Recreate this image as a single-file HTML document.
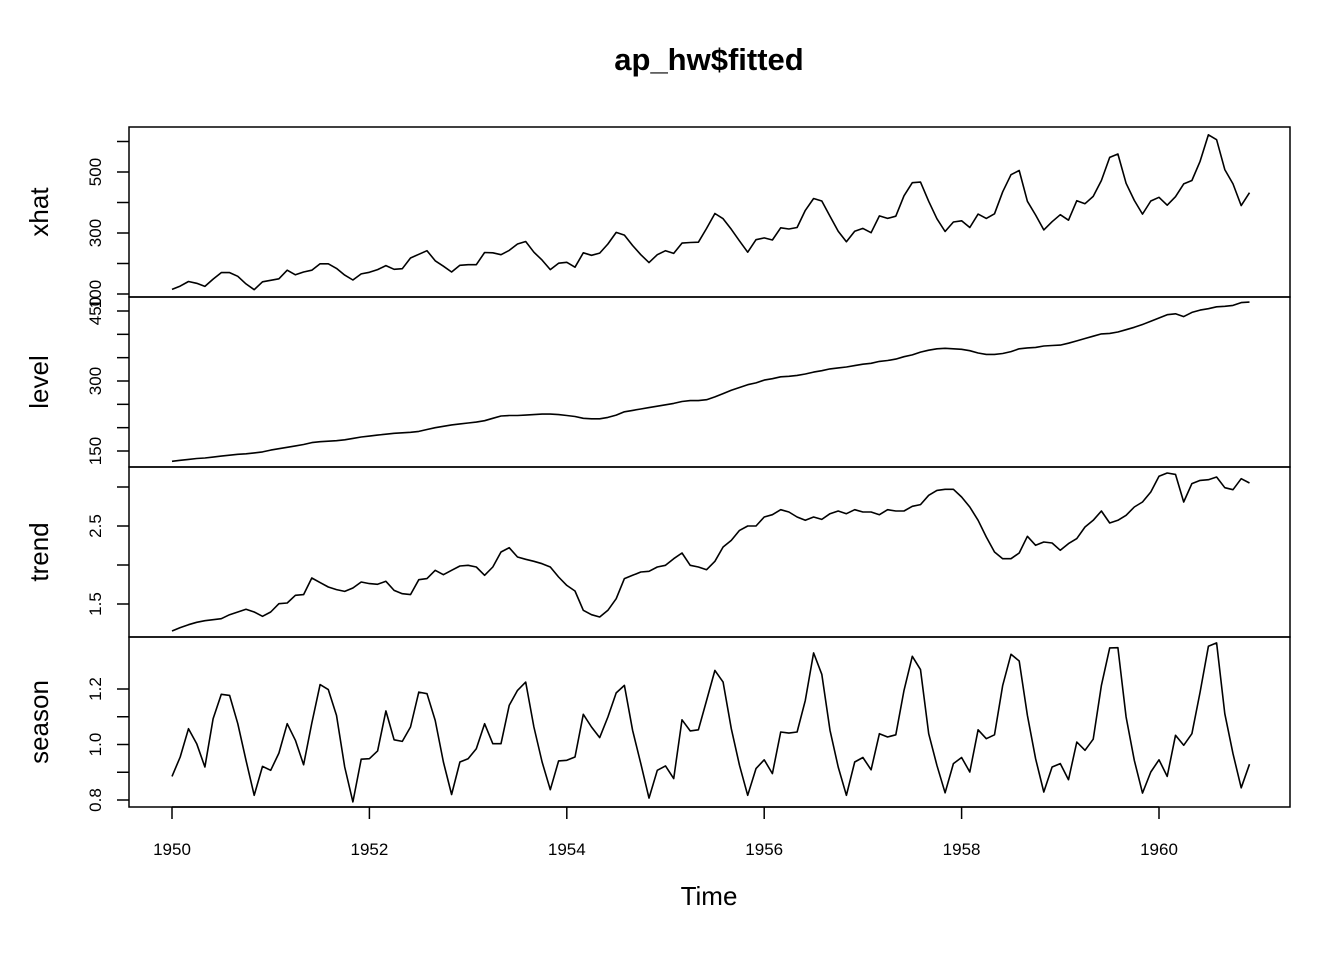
<!DOCTYPE html>
<html><head><meta charset="utf-8"><style>
body{margin:0;background:#fff}
svg text{font-family:"Liberation Sans",Arial,sans-serif;fill:#000}
</style></head><body>
<svg id="chart" width="1344" height="960" xmlns="http://www.w3.org/2000/svg">
<rect x="0" y="0" width="1344" height="960" fill="#fff"/>
<text x="709" y="70" font-size="31" font-weight="bold" text-anchor="middle">ap_hw$fitted</text>
<text x="709" y="905" font-size="26" text-anchor="middle">Time</text>
</svg>
<script>
const years = [1950,1952,1954,1956,1958,1960];
const xhatVals = [115,126,141,135,125,149,170,170,158,133,114,140,
145,150,178,163,172,178,199,199,184,162,146,166,
171,180,193,181,183,218,230,242,209,191,172,194,
196,196,236,235,229,243,264,272,237,211,180,201,
204,188,235,227,234,264,302,293,259,229,203,229,
242,233,267,269,270,315,364,347,312,274,237,278,
284,277,317,313,318,374,413,405,355,306,271,306,
315,301,356,348,355,422,465,467,404,347,305,336,
340,318,362,348,363,435,491,505,404,359,310,337,
360,342,406,396,420,472,548,559,463,407,362,405,
417,391,419,461,472,535,622,606,508,461,390,432];
const levelVals = [128,130,132,134,135,137,139,141,143,144,146,148,
152,155,158,161,164,168,170,171,172,174,177,180,
182,184,186,188,189,190,192,196,200,203,206,208,
210,212,215,220,225,226,226,227,228,229,229,228,
226,224,220,219,219,222,227,234,237,240,243,246,
249,252,256,258,258,260,266,273,280,286,292,296,
302,305,309,310,312,315,319,322,326,328,330,333,
336,338,342,344,347,352,356,362,366,369,370,369,
368,365,360,357,357,359,363,369,371,372,375,376,
377,381,386,391,396,401,402,405,410,415,421,428,
435,442,444,438,447,452,455,459,460,462,468,469];
const trendVals = [1.154,1.197,1.235,1.265,1.286,1.299,1.312,1.363,1.397,1.432,1.397,1.342,
1.397,1.504,1.513,1.611,1.620,1.833,1.774,1.718,1.684,1.662,1.705,1.782,
1.761,1.752,1.791,1.675,1.632,1.620,1.812,1.825,1.932,1.876,1.932,1.987,
1.996,1.974,1.868,1.974,2.167,2.222,2.103,2.073,2.047,2.017,1.974,1.846,
1.739,1.667,1.419,1.363,1.333,1.419,1.568,1.825,1.868,1.910,1.919,1.974,
1.996,2.081,2.154,1.996,1.974,1.940,2.047,2.231,2.316,2.444,2.500,2.500,
2.615,2.645,2.709,2.679,2.615,2.573,2.615,2.585,2.658,2.692,2.658,2.709,
2.679,2.679,2.645,2.709,2.692,2.692,2.752,2.774,2.893,2.957,2.970,2.970,
2.872,2.744,2.573,2.359,2.167,2.081,2.081,2.154,2.368,2.252,2.295,2.282,
2.188,2.274,2.338,2.487,2.573,2.692,2.538,2.573,2.637,2.744,2.808,2.936,
3.137,3.179,3.162,2.808,3.043,3.085,3.094,3.128,2.991,2.966,3.107,3.051];
const seasonVals = [0.885,0.955,1.057,1.003,0.919,1.093,1.181,1.177,1.075,0.943,0.817,0.921,
0.907,0.969,1.075,1.015,0.927,1.077,1.216,1.198,1.105,0.919,0.793,0.947,
0.949,0.977,1.121,1.017,1.011,1.063,1.189,1.183,1.087,0.937,0.820,0.937,
0.949,0.985,1.075,1.003,1.003,1.141,1.195,1.225,1.063,0.937,0.837,0.941,
0.943,0.955,1.109,1.063,1.025,1.099,1.186,1.213,1.051,0.931,0.807,0.907,
0.923,0.877,1.089,1.049,1.053,1.159,1.267,1.225,1.057,0.925,0.817,0.913,
0.945,0.895,1.045,1.041,1.045,1.159,1.330,1.253,1.051,0.919,0.817,0.937,
0.953,0.909,1.039,1.027,1.035,1.195,1.318,1.270,1.039,0.925,0.826,0.931,
0.953,0.901,1.053,1.021,1.035,1.213,1.325,1.301,1.105,0.949,0.829,0.919,
0.931,0.873,1.009,0.979,1.019,1.213,1.348,1.349,1.099,0.943,0.825,0.901,
0.945,0.885,1.033,0.997,1.039,1.189,1.354,1.366,1.111,0.967,0.844,0.929];
const xhatTicks = [100,200,300,400,500,600];
const xhatLabels = ["100","","300","","500",""];
const levelTicks = [150,200,250,300,350,400,450];
const levelLabels = ["150","","","300","","","450"];
const trendTicks = [1.5,2.0,2.5,3.0];
const trendLabels = ["1.5","","2.5",""];
const seasonTicks = [0.8,0.9,1.0,1.1,1.2];
const seasonLabels = ["0.8","","1.0","","1.2"];

const NS="http://www.w3.org/2000/svg";
const svg=document.getElementById('chart');
const X0=129,X1=1290;
function xs(t){return 172+(t-1950)*98.7;}
function mk(tag,attrs){const e=document.createElementNS(NS,tag);for(const k in attrs)e.setAttribute(k,attrs[k]);svg.appendChild(e);return e;}
const panels=[
 {name:'xhat',vals:xhatVals,ticks:xhatTicks,labels:xhatLabels,top:127,bot:297,v0:100,y0:294,v1:500,y1:172},
 {name:'level',vals:levelVals,ticks:levelTicks,labels:levelLabels,top:297,bot:467,v0:150,y0:451,v1:450,y1:311},
 {name:'trend',vals:trendVals,ticks:trendTicks,labels:trendLabels,top:467,bot:637,v0:1.5,y0:604,v1:2.5,y1:526},
 {name:'season',vals:seasonVals,ticks:seasonTicks,labels:seasonLabels,top:637,bot:807,v0:0.8,y0:800,v1:1.2,y1:689}
];
panels.forEach(p=>{
 const ys=v=>p.y0+(v-p.v0)*(p.y1-p.y0)/(p.v1-p.v0);
 const box=mk('rect',{x:X0,y:p.top,width:X1-X0,height:p.bot-p.top,fill:'none',stroke:'#000','stroke-width':1.5});
 
 
 const pts=p.vals.map((v,i)=>xs(1950+i/12).toFixed(1)+','+ys(v).toFixed(1)).join(' ');
 const line=mk('polyline',{points:pts,fill:'none',stroke:'#000','stroke-width':1.6,'stroke-linejoin':'round'});
 
 
 p.ticks.forEach((t,i)=>{
  const y=ys(t);
  const tk=mk('line',{x1:X0,x2:X0-12,y1:y,y2:y,stroke:'#000','stroke-width':1.5});
  
  
  if(p.labels[i]){
   const tx=mk('text',{x:101,y:y,'font-size':17,'text-anchor':'middle',transform:'rotate(-90 101 '+y+')'});
   tx.textContent=p.labels[i];
   
   
  }
 });
 const cy=(p.top+p.bot)/2;
 const lab=mk('text',{x:48,y:cy,'font-size':26,'text-anchor':'middle',transform:'rotate(-90 48 '+cy+')'});
 lab.textContent=p.name;
 
 
});
const ax=mk('line',{x1:xs(years[0]),x2:xs(years[years.length-1]),y1:807,y2:807,stroke:'#000','stroke-width':1.5});


years.forEach(yr=>{
 const x=xs(yr);
 const tk=mk('line',{x1:x,x2:x,y1:807,y2:819,stroke:'#000','stroke-width':1.5});
 
 
 const tx=mk('text',{x:x,y:855,'font-size':17,'text-anchor':'middle'});
 tx.textContent=yr;
 
 
});
</script>
</body></html>
